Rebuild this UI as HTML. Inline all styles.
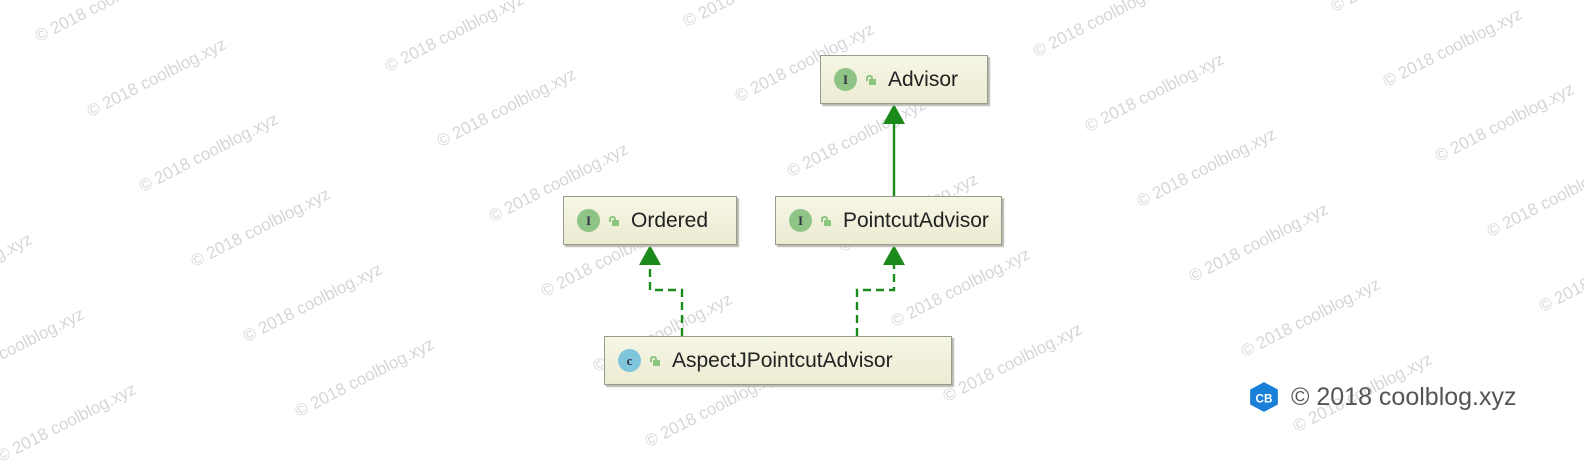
<!DOCTYPE html>
<html><head><meta charset="utf-8"><style>
body{margin:0;width:1584px;height:440px;background:#fff;position:relative;overflow:hidden;font-family:"Liberation Sans",sans-serif}
.wm{position:absolute;color:#d6d6d6;font-size:17px;white-space:nowrap;transform-origin:0 100%;transform:rotate(-27deg);line-height:17px}
.box{position:absolute;background:linear-gradient(#f6f6e6,#ecebd2);border:1px solid #9a9a8a;box-shadow:2px 2px 1px #b8b8b0;height:47px;display:flex;align-items:center;font-size:21px;color:#222}
.ic{width:23px;height:23px;border-radius:50%;background:#8fc487;color:#334;font-family:"Liberation Serif",serif;font-size:13px;font-weight:bold;display:flex;align-items:center;justify-content:center;margin-left:13px}
.lk{width:10px;height:10px;margin:0 12px 0 9px;position:relative}
.lk:before{content:"";position:absolute;left:3px;top:4px;width:7px;height:6px;background:#8dc77f}
.lk:after{content:"";position:absolute;left:0;top:0;width:3px;height:4px;border:2px solid #8dc77f;border-bottom:none;border-radius:3px 3px 0 0}
</style></head><body>
<div id="wms"></div>
<svg width="1584" height="440" style="position:absolute;left:0;top:0">
<g stroke="#1a8a1a" stroke-width="2.4" fill="none">
<line x1="894" y1="196" x2="894" y2="122"/>
<path d="M682 336 V290 H650 V262" stroke-dasharray="8,5"/>
<path d="M857 336 V290 H894 V262" stroke-dasharray="8,5"/>
</g>
<g fill="#1a8a1a">
<polygon points="894,104 883,124 905,124"/>
<polygon points="650,245 639,265 661,265"/>
<polygon points="894,245 883,265 905,265"/>
</g>
</svg>
<div class="box" style="left:820px;top:55px;width:166px"><div class="ic">I</div><div class="lk"></div>Advisor</div>
<div class="box" style="left:563px;top:196px;width:172px"><div class="ic">I</div><div class="lk"></div>Ordered</div>
<div class="box" style="left:775px;top:196px;width:225px"><div class="ic">I</div><div class="lk"></div>PointcutAdvisor</div>
<div class="box" style="left:604px;top:336px;width:346px"><div class="ic" style="background:#7fc6dc">c</div><div class="lk"></div>AspectJPointcutAdvisor</div>
<div style="position:absolute;left:1248px;top:381px;display:flex;align-items:center;font-size:25px;color:#555">
<svg width="32" height="32" viewBox="0 0 30 30"><polygon points="15,1 28,8 28,22 15,29 2,22 2,8" fill="#1a7fd6"/><text x="15" y="20" font-size="11" font-weight="bold" fill="#fff" text-anchor="middle" font-family="Liberation Sans">CB</text></svg>
<span style="margin-left:11px">© 2018 coolblog.xyz</span></div>
<script>
var h='';
for(var c=-3;c<6;c++)for(var r=-4;r<9;r++){var x=40+350*c+52*r,y=45+30*c+75*r;if(x>-250&&x<1600&&y>-30&&y<470)h+='<div class="wm" style="left:'+x+'px;top:'+(y-17)+'px">© 2018 coolblog.xyz</div>';}
document.getElementById('wms').innerHTML=h;
</script>
</body></html>
